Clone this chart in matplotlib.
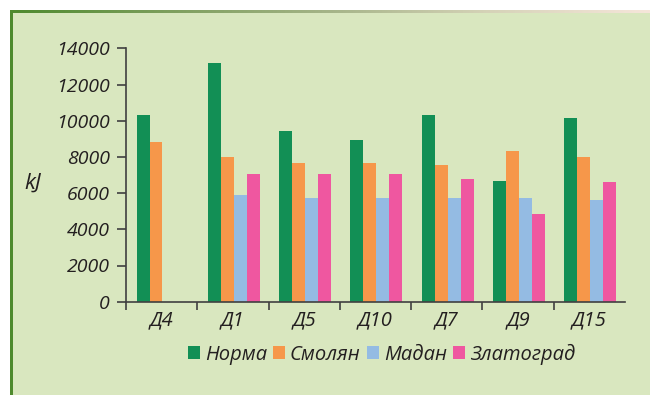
import numpy as np
import matplotlib
matplotlib.use("Agg")
import matplotlib.pyplot as plt
from matplotlib.patches import Rectangle, Patch
from matplotlib.colors import LinearSegmentedColormap

categories = ["Д4", "Д1", "Д5", "Д10", "Д7", "Д9", "Д15"]
series_names = ["Норма", "Смолян", "Мадан", "Златоград"]
norma = [10300, 13200, 9450, 8950, 10300, 6650, 10150]
smolyan = [8800, 8000, 7650, 7650, 7550, 8350, 8000]
madan = [np.nan, 5900, 5750, 5750, 5750, 5750, 5600]
zlatograd = [np.nan, 7050, 7050, 7050, 6800, 4850, 6600]
y_ticks = [0, 2000, 4000, 6000, 8000, 10000, 12000, 14000]

colors = ["#128F55", "#F6974A", "#94BBE3", "#EF57A0"]
bg = "#D9E7BF"
txt = "#231F20"
axc = "#404040"

W, H = 650, 395
fig = plt.figure(figsize=(6.5, 3.95), dpi=100, facecolor="white")

# background panel
fig.patches.append(Rectangle((12.5 / W, 0), 1, 1 - 12.5 / H, transform=fig.transFigure,
                             facecolor=bg, edgecolor="none", zorder=-10))
# left border
fig.patches.append(Rectangle((10 / W, 0), 2.7 / W, 1 - 10 / H, transform=fig.transFigure,
                             facecolor="#4E8A2E", edgecolor="none", zorder=-9))
# top border gradient
gax = fig.add_axes([10 / W, 1 - 12.7 / H, 1 - 10 / W, 2.7 / H])
cmap = LinearSegmentedColormap.from_list("g", ["#4E8A2E", "#7E9F5E", "#A5B488", "#D6D3B8", "#F6E6DA"])
gax.imshow(np.linspace(0, 1, 256)[None, :], aspect="auto", cmap=cmap)
gax.set_axis_off()

ax = fig.add_axes([126 / W, 1 - 301.7 / H, (625 - 126) / W, (301.7 - 48.3) / H])
ax.set_facecolor("none")
ax.set_zorder(2)

x = np.arange(len(categories))
w = 0.182
shift = 0.012
data = [norma, smolyan, madan, zlatograd]
for k, (vals, c) in enumerate(zip(data, colors)):
    v = np.array(vals, dtype=float)
    m = ~np.isnan(v)
    ax.bar(x[m] + (k - 1.5) * w + shift, v[m], width=w, color=c, edgecolor="none", zorder=2)

ax.set_xlim(-0.5, 6.5)
ax.set_ylim(0, 14000)
for s in ["top", "right"]:
    ax.spines[s].set_visible(False)
for s in ["left", "bottom"]:
    ax.spines[s].set_color(axc)
    ax.spines[s].set_linewidth(1.2)
    ax.spines[s].set_zorder(3)

fy = dict(family="Open Sans", style="italic", size=14)
fx = dict(family="Open Sans", style="italic", size=14.5)
ax.set_yticks(y_ticks)
ax.set_yticklabels([str(v) for v in y_ticks], fontdict=fy, color=txt)
ax.tick_params(axis="y", direction="out", length=6.5, width=1.2, color=axc, pad=5)

ax.set_xticks(x)
ax.set_xticklabels(categories, fontdict=fx, color=txt)
ax.tick_params(axis="x", which="major", length=0, pad=6.5)
ax.set_xticks(np.arange(-0.5, 6.0, 1.0), minor=True)
ax.tick_params(axis="x", which="minor", direction="out", length=6, width=1.2, color=axc)

fig.text(32.5 / W, 1 - 183 / H, "kJ", ha="center", va="center", color=txt,
         family="Open Sans", style="italic", size=16)

handles = [Patch(facecolor=c, edgecolor="none", label=n) for c, n in zip(colors, series_names)]
leg = fig.legend(handles=handles, loc="center", bbox_to_anchor=(381.5 / W, 1 - 354 / H), ncol=4,
                 frameon=False, prop={"family": "Open Sans", "style": "italic", "size": 14.5},
                 handlelength=0.6, handleheight=0.6, handletextpad=0.25, columnspacing=0.3,
                 borderaxespad=0, borderpad=0)
for t in leg.get_texts():
    t.set_color(txt)

fig.savefig("out.png", dpi=100, facecolor="white")
